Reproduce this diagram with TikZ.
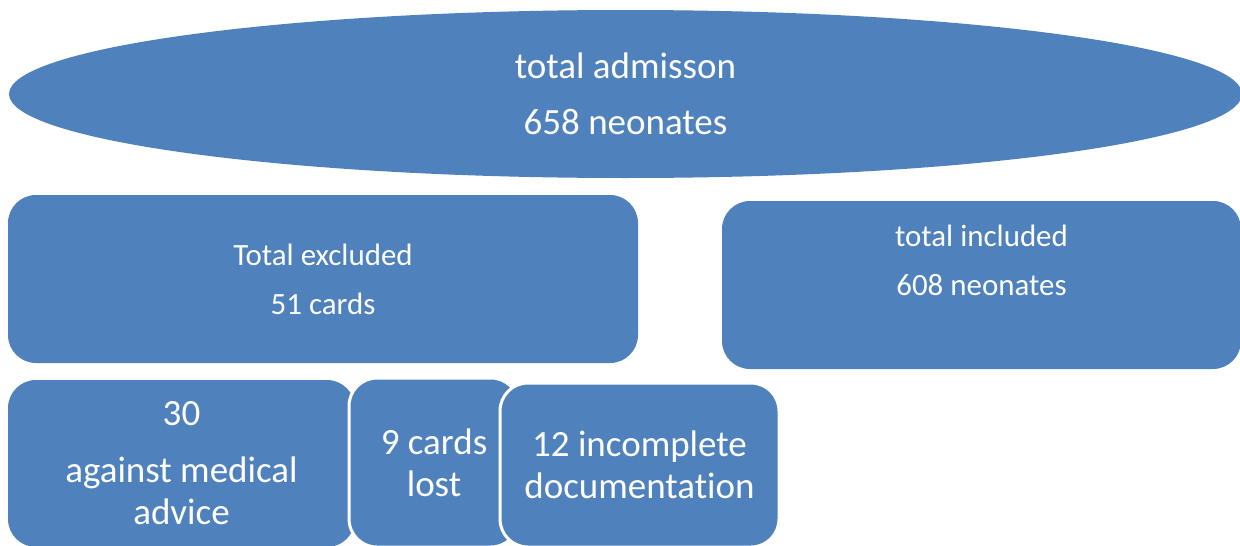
\documentclass[tikz,border=0pt]{standalone}
\usepackage{fontspec}
\setmainfont{Carlito}[Ligatures=NoCommon]
\usetikzlibrary{shapes.geometric}
\definecolor{flowblue}{HTML}{4F81BD}

\begin{document}
\begin{tikzpicture}[x=0.75pt, y=-0.75pt,
    box/.style={rectangle, rounded corners=21pt, fill=flowblue, text=white, align=center, inner sep=0pt},
    subbox/.style={box, draw=white, line width=2.25pt},
    bigtext/.style={font=\fontsize{27.75}{42}\selectfont},
    midtext/.style={font=\fontsize{23.2}{36.75}\selectfont},
    smalltext/.style={font=\fontsize{27.75}{31.5}\selectfont}]
    \useasboundingbox (0,0) rectangle (1240,546);
    % top of the flow
    \node[ellipse, fill=flowblue, text=white, align=center, inner sep=0pt, minimum width=924.75pt, minimum height=126pt, bigtext] (total) at (625.5,94) {total admisson\\658 neonates};
    % excluded / included
    \node[box, minimum width=472.5pt, minimum height=126pt, midtext] (excl) at (323,279) {Total excluded\\51 cards};
    \node[box, minimum width=389.25pt, minimum height=126pt, text depth=37.5pt, midtext] (incl) at (981.5,285) {total included\\608 neonates};
    % reasons for exclusion
    \node[box, minimum width=260.25pt, minimum height=125.25pt, smalltext] (ama) at (181.5,463.5) {30\\[11.25pt]against medical\\advice};
    \node[subbox, minimum width=127.5pt, minimum height=126.75pt, smalltext] (lost) at (434,462.5) {9 cards\\lost};
    \node[subbox, minimum width=209.25pt, minimum height=123pt, smalltext] (incomplete) at (639.5,465) {12 incomplete\\documentation};
\end{tikzpicture}
\end{document}
